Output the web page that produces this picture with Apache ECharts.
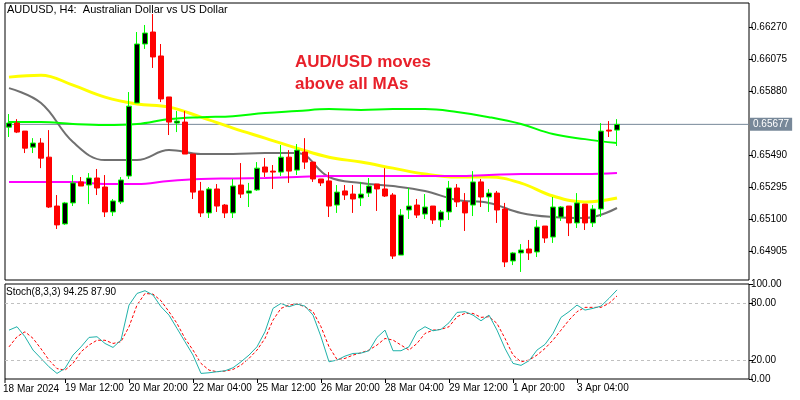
<!DOCTYPE html>
<html><head><meta charset="utf-8">
<script src="https://cdn.jsdelivr.net/npm/echarts@6/dist/echarts.min.js"></script>
<style>html,body{margin:0;padding:0;background:#fff}#c{width:800px;height:400px}</style>
</head><body><div id="c"></div>
<script>
// OHLC candles: [open, close, low, high]
const candles = [
[0.65660,0.65685,0.65600,0.65740],[0.65685,0.65630,0.65624,0.65709],[0.65636,0.65532,0.65502,0.65636],
[0.65538,0.65563,0.65502,0.65593],[0.65563,0.65471,0.65410,0.65593],[0.65477,0.65173,0.65167,0.65642],
[0.65179,0.65064,0.65039,0.65246],[0.65070,0.65198,0.65064,0.65204],[0.65198,0.65320,0.65179,0.65368],
[0.65326,0.65301,0.65301,0.65356],[0.65307,0.65350,0.65191,0.65380],[0.65350,0.65289,0.65246,0.65405],
[0.65295,0.65143,0.65112,0.65368],[0.65143,0.65210,0.65118,0.65222],[0.65204,0.65338,0.65191,0.65356],
[0.65362,0.65788,0.65344,0.65874],[0.65807,0.66167,0.65807,0.66240],[0.66167,0.66234,0.66137,0.66283],
[0.66240,0.66088,0.66021,0.66350],[0.66094,0.65832,0.65813,0.66167],[0.65844,0.65691,0.65612,0.65844],
[0.65685,0.65697,0.65630,0.65758],[0.65691,0.65496,0.65496,0.65758],[0.65496,0.65264,0.65222,0.65496],
[0.65271,0.65137,0.65112,0.65326],[0.65137,0.65283,0.65106,0.65295],[0.65283,0.65179,0.65143,0.65313],
[0.65185,0.65137,0.65106,0.65191],[0.65137,0.65301,0.65106,0.65344],[0.65307,0.65252,0.65228,0.65441],
[0.65258,0.65271,0.65173,0.65320],[0.65277,0.65410,0.65271,0.65447],[0.65417,0.65386,0.65356,0.65472],
[0.65392,0.65386,0.65283,0.65429],[0.65386,0.65477,0.65362,0.65551],[0.65477,0.65392,0.65320,0.65520],
[0.65398,0.65520,0.65368,0.65557],[0.65508,0.65447,0.65405,0.65593],[0.65447,0.65344,0.65326,0.65447],
[0.65344,0.65320,0.65301,0.65344],[0.65332,0.65179,0.65112,0.65386],[0.65185,0.65264,0.65137,0.65307],
[0.65271,0.65246,0.65216,0.65307],[0.65252,0.65222,0.65137,0.65307],[0.65228,0.65252,0.65179,0.65326],
[0.65258,0.65301,0.65234,0.65350],[0.65313,0.65283,0.65149,0.65313],[0.65283,0.65240,0.65234,0.65410],
[0.65246,0.64874,0.64856,0.65258],[0.64880,0.65124,0.64880,0.65161],[0.65155,0.65179,0.65100,0.65289],
[0.65185,0.65124,0.65106,0.65222],[0.65130,0.65173,0.65100,0.65252],[0.65179,0.65094,0.65070,0.65179],
[0.65094,0.65143,0.65051,0.65155],[0.65143,0.65289,0.65094,0.65332],[0.65289,0.65204,0.65173,0.65313],
[0.65204,0.65137,0.65027,0.65258],[0.65185,0.65326,0.65118,0.65392],[0.65326,0.65234,0.65173,0.65344],
[0.65234,0.65258,0.65143,0.65283],[0.65258,0.65155,0.65076,0.65271],[0.65161,0.64838,0.64807,0.65198],
[0.64844,0.64893,0.64819,0.64899],[0.64893,0.64911,0.64777,0.64947],[0.64917,0.64893,0.64850,0.64972],
[0.64899,0.65051,0.64868,0.65094],[0.65057,0.64984,0.64954,0.65057],[0.64990,0.65173,0.64954,0.65234],
[0.65112,0.65173,0.65088,0.65179],[0.65179,0.65076,0.64996,0.65179],[0.65076,0.65198,0.65045,0.65258],
[0.65191,0.65076,0.65033,0.65191],[0.65076,0.65161,0.65051,0.65185],[0.65161,0.65636,0.65112,0.65685],
[0.65642,0.65636,0.65600,0.65697],[0.65642,0.65677,0.65545,0.65709]
];
// moving averages sampled every 4 bars
const maIdx = [0,4,8,12,16,20,24,28,32,36,40,44,48,52,56,60,64,68,72,76];
const maYellow = [0.65965,0.65977,0.65916,0.65843,0.65801,0.65782,0.65721,0.65654,0.65593,0.65532,0.65477,0.65447,0.65410,0.65374,0.65356,0.65356,0.65319,0.65240,0.65204,0.65228];
const maGray = [0.65898,0.65807,0.65569,0.65459,0.65459,0.65520,0.65496,0.65496,0.65502,0.65502,0.65356,0.65319,0.65301,0.65271,0.65216,0.65198,0.65137,0.65112,0.65106,0.65167];
const maGreen = [0.65691,0.65691,0.65679,0.65673,0.65679,0.65709,0.65721,0.65727,0.65746,0.65758,0.65770,0.65764,0.65770,0.65770,0.65752,0.65721,0.65679,0.65618,0.65587,0.65563];
const maMagenta = [0.65326,0.65326,0.65326,0.65313,0.65313,0.65332,0.65344,0.65347,0.65350,0.65356,0.65362,0.65362,0.65362,0.65362,0.65362,0.65368,0.65374,0.65374,0.65374,0.65380];
const stochK = [51.7,55.3,44.7,30.6,21.8,12.9,5.9,11.2,25.3,34,44,44.7,37.6,33.4,41.2,78.2,90.5,93.4,88.8,76.4,
67.6,53.5,39.4,25.3,5.9,6.6,7.7,8.7,11.9,18.2,25.3,34.1,50,74.7,80,76.4,79.3,77.1,67.6,44.7,
18.2,20,24.2,27,27.4,29.9,44,51.7,29.9,29.9,34.1,50,55.3,51,52.5,59.5,70.4,71.2,67.6,61.6,
67.6,51.7,32.3,16.5,14.4,19.3,30.6,36.6,48.2,65.2,71.2,78.2,72.9,74.7,77.1,85.3,94.25];
const stochD = [34,44.7,50,43,32,20,11,9.4,16.5,28.8,35.9,41,41,37.6,39.4,55.3,78.2,90.5,89.8,82.8,
71.2,58.8,42.9,30.6,16.5,9.4,7.7,8.4,10.1,14.7,21.8,30.6,42.9,62.3,74.7,78.2,79.3,76.4,71.2,55.3,
34.1,20.7,21.8,25.3,27.7,30.6,35.9,42.9,41.2,35.9,30.6,37.6,48.2,51.7,52.5,55.3,65.9,69.4,69.4,65.2,
65.9,58.8,42.9,25.3,18.2,20,25.3,32.3,41.2,51.7,62.3,71.2,75.8,75.8,75.8,80,87.9];
const priceTicks = [0.64905,0.65100,0.65295,0.65490,0.65880,0.66075,0.66270];
const lastPrice = 0.65677;
const tickIdx = [7,15,23,31,39,47,55,63,71];
const tickText = ['19 Mar 12:00','20 Mar 20:00','22 Mar 04:00','25 Mar 12:00','26 Mar 20:00','28 Mar 04:00','29 Mar 12:00','1 Apr 20:00','3 Apr 04:00'];
const firstLabel = '18 Mar 2024';
const NCAT = 93;
const cats = Array.from({length:NCAT},(_,i)=>String(i));

const F = 'Liberation Sans, Arial, sans-serif';
const chart = echarts.init(document.getElementById('c'), null, {renderer:'canvas'});
const maSeries = (vals,color,w)=>({type:'line',xAxisIndex:0,yAxisIndex:0,data:maIdx.map((i,k)=>[i,vals[k]]),
  smooth:0.4,symbol:'none',lineStyle:{color:color,width:w},z:2,silent:true});
chart.setOption({
  animation:false,
  backgroundColor:'#fff',
  grid:[
    {left:5,right:51,top:3,height:277,show:true,borderColor:'#000',borderWidth:1},
    {left:5,right:51,top:284,height:95,show:true,borderColor:'#000',borderWidth:1}
  ],
  xAxis:[
    {type:'category',gridIndex:0,data:cats,boundaryGap:false,axisLine:{show:false},axisTick:{show:false},axisLabel:{show:false},splitLine:{show:false}},
    {type:'category',gridIndex:1,data:cats,boundaryGap:true,axisLine:{show:false},
     axisTick:{show:true,alignWithLabel:true,length:4,interval:(i)=>tickIdx.includes(i),lineStyle:{color:'#000'}},
     axisLabel:{interval:(i)=>tickIdx.includes(i),hideOverlap:false,formatter:(v,i)=>{const k=tickIdx.indexOf(i);return k>=0?tickText[k]:'';},
       align:'left',margin:4,fontSize:10,fontFamily:F,color:'#000'},splitLine:{show:false}},
    {type:'category',gridIndex:0,data:cats,boundaryGap:true,show:false}
  ],
  yAxis:[
    {type:'value',gridIndex:0,position:'right',min:0.64728,max:0.66417,
     axisLine:{show:false},splitLine:{show:false},
     axisTick:{show:true,length:4,customValues:priceTicks,lineStyle:{color:'#000'}},
     axisLabel:{customValues:priceTicks,formatter:v=>v.toFixed(5),fontSize:10,fontFamily:F,color:'#000',margin:2}},
    {type:'value',gridIndex:1,position:'right',min:0,max:100.5,
     axisLine:{show:false},splitLine:{show:false},
     axisTick:{show:true,length:4,customValues:[0,20,80,100],lineStyle:{color:'#000'}},
     axisLabel:{customValues:[0,20,80,100],formatter:v=>v.toFixed(2),fontSize:10,fontFamily:F,color:'#000',margin:2}}
  ],
  series:[
    {type:'line',xAxisIndex:0,yAxisIndex:0,data:[[0,lastPrice],[NCAT-1,lastPrice]],symbol:'none',silent:true,z:1,
     lineStyle:{color:'#778899',width:1},
     endLabel:{show:true,formatter:lastPrice.toFixed(5),backgroundColor:'#778899',color:'#fff',
       fontSize:10,fontFamily:F,padding:[2,3,1,3],distance:1}},
    {...maSeries(maYellow,'#ffff00',3),xAxisIndex:2},
    {...maSeries(maGray,'#707070',2),xAxisIndex:2},
    {...maSeries(maGreen,'#00ff00',2),xAxisIndex:2},
    {...maSeries(maMagenta,'#ff00ff',2),xAxisIndex:2},
    {type:'candlestick',xAxisIndex:2,yAxisIndex:0,data:candles,barWidth:5,z:3,
     itemStyle:{color:'#000000',borderColor:'#00ff00',color0:'#ff0000',borderColor0:'#ff0000',borderWidth:1}},
    {type:'line',xAxisIndex:1,yAxisIndex:1,data:stochK,symbol:'none',lineStyle:{color:'#20b2aa',width:1},z:3,
     markLine:{silent:true,symbol:'none',label:{show:false},lineStyle:{color:'#c0c0c0',type:[3,3],width:1},
       data:[{yAxis:80},{yAxis:20}]}},
    {type:'line',xAxisIndex:1,yAxisIndex:1,data:stochD,symbol:'none',lineStyle:{color:'#ff0000',width:1,type:[3,2]},z:2}
  ],
  graphic:[
    {type:'text',left:7,top:4,style:{text:'AUDUSD, H4:  Australian Dollar vs US Dollar',font:'11px '+F,fill:'#000'}},
    {type:'text',left:295,top:51,style:{text:'AUD/USD moves\nabove all MAs',font:'bold 17px '+F,fill:'#e8202a',lineHeight:22}},
    {type:'text',left:6,top:287,style:{text:'Stoch(8,3,3) 94.25 87.90',font:'10px '+F,fill:'#000'}},
    {type:'text',left:3,top:384,style:{text:firstLabel,font:'10px '+F,fill:'#000'}},
    {type:'line',shape:{x1:5,y1:379,x2:5,y2:383},style:{stroke:'#000'}}
  ]
});
</script></body></html>
